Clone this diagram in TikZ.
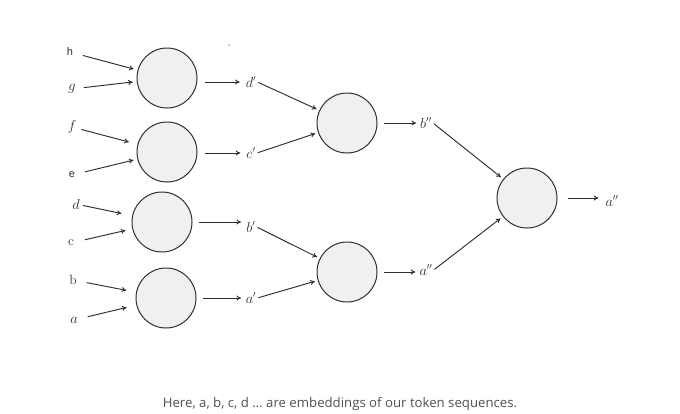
\documentclass[tikz,border=0pt]{standalone}
\usepackage{fontspec}
\setsansfont{Liberation Sans}
\newfontfamily\capfont{Open Sans}
\usetikzlibrary{arrows.meta}
\definecolor{ink}{HTML}{2E2E2E}
\definecolor{cfill}{HTML}{F0F0F0}
\definecolor{capgrey}{HTML}{505050}
\tikzset{
  neuron/.style={circle, draw=ink, fill=cfill, line width=1pt, minimum size=60pt, inner sep=0pt},
  lbl/.style={inner sep=1pt, text=ink, font=\fontsize{11}{13}\selectfont},
  mlbl/.style={inner sep=1pt, text=ink, font=\fontsize{13.5}{15}\selectfont},
  conn/.style={draw=ink, line width=0.95pt, -{To[length=4.5pt,width=5pt]}},
}
\begin{document}
\begin{tikzpicture}[x=1pt,y=-1pt]
\useasboundingbox (0,0) rectangle (680,413);
% first layer
\node[neuron] (n1) at (167,78) {};
\node[neuron] (n2) at (167,152) {};
\node[neuron] (n3) at (162,222) {};
\node[neuron] (n4) at (166,298) {};
% second layer
\node[neuron] (n5) at (347,123) {};
\node[neuron] (n6) at (347,272) {};
% third layer
\node[neuron] (n7) at (527,198) {};
% inputs
\node[lbl] (h) at (70,52) {\sffamily h};
\node[mlbl] (g) at (72,89) {$g$};
\node[mlbl] (f) at (72,127) {$f$};
\node[lbl] (e) at (72,175) {\sffamily e};
\node[mlbl] (d) at (76,204) {$d$};
\node[mlbl] (c) at (71,243) {c};
\node[mlbl] (b) at (73,280) {b};
\node[mlbl] (a) at (74,320) {$a$};
\draw[conn, shorten <=9pt, shorten >=4pt] (h) -- (n1);
\draw[conn, shorten <=7pt, shorten >=4pt] (g) -- (n1);
\draw[conn, shorten <=4pt, shorten >=9pt] (f) -- (n2);
\draw[conn, shorten <=9pt, shorten >=4pt] (e) -- (n2);
\draw[conn, shorten <=2pt, shorten >=11pt] (d) -- (n3);
\draw[conn, shorten <=10pt, shorten >=7pt] (c) -- (n3);
\draw[conn, shorten <=9pt, shorten >=10pt] (b) -- (n4);
\draw[conn, shorten <=9pt, shorten >=10pt] (a) -- (n4);
% first outputs
\node[mlbl] (dp) at (251,82) {$d'$};
\node[mlbl] (cp) at (251,153) {$c'$};
\node[mlbl] (bp) at (251,227) {$b'$};
\node[mlbl] (ap) at (251,298) {$a'$};
\draw[conn, shorten <=7pt, shorten >=5pt] (n1.east |- dp) -- (dp);
\draw[conn, shorten <=7pt, shorten >=5pt] (n2.east |- cp) -- (cp);
\draw[conn, shorten <=6pt, shorten >=10pt] (n3.east) -- (n3.east -| bp);
\draw[conn, shorten <=6pt, shorten >=10pt] (n4.east) -- (n4.east -| ap);
\draw[conn, shorten <=1pt, shorten >=3pt] (dp.east) -- (n5);
\draw[conn, shorten <=1pt, shorten >=3pt] (cp.east) -- (n5);
\draw[conn, shorten <=1pt, shorten >=3pt] (bp.east) -- (n6);
\draw[conn, shorten <=1pt, shorten >=3pt] (ap.east) -- (n6);
% second outputs
\node[mlbl] (bpp) at (426,123) {$b''$};
\node[mlbl] (app) at (426,270) {$a''$};
\draw[conn, shorten <=6pt, shorten >=3pt] (n5.east) -- (bpp.west |- n5.east);
\draw[conn, shorten <=6pt, shorten >=3pt] (n6.east) -- (app.west |- n6.east);
\draw[conn, shorten <=1pt, shorten >=3pt] (bpp.east) -- (n7);
\draw[conn, shorten <=1pt, shorten >=3pt] (app.east) -- (n7);
% final output
\node[mlbl] (out) at (612,201) {$a''$};
\draw[conn, shorten <=10pt, shorten >=6pt] (n7.east) -- (n7.east -| out.west);
% stray dot
\fill[ink] (229,45) circle (0.7pt);
% caption
\node[text=capgrey, font=\capfont\fontsize{13.2}{15}\selectfont] (cap) at (340,404) {Here, a, b, c, d … are embeddings of our token sequences.};
\end{tikzpicture}
\end{document}
